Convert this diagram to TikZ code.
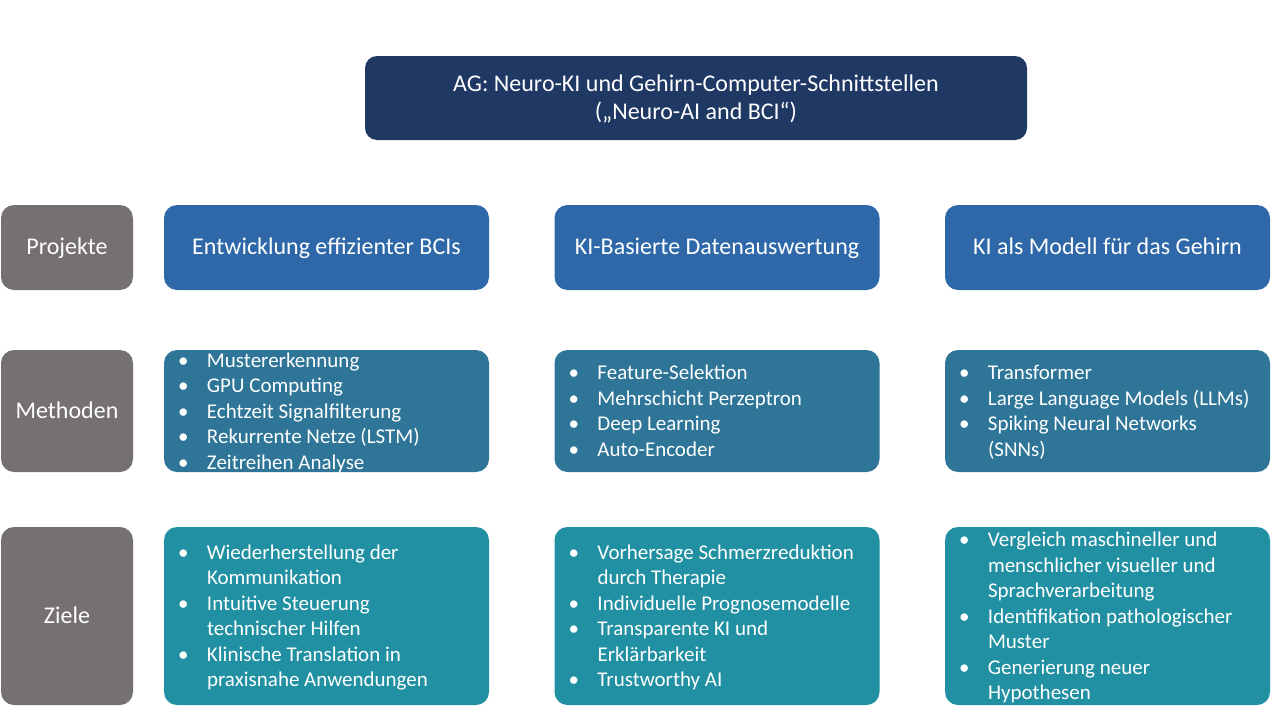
\documentclass[tikz,border=0pt]{standalone}
\usepackage{fontspec}
\setmainfont{Carlito}
\usetikzlibrary{positioning}
\definecolor{titelblau}{RGB}{31,56,100}
\definecolor{projektblau}{RGB}{46,104,168}
\definecolor{methodenblau}{RGB}{46,117,152}
\definecolor{zieleblau}{RGB}{33,144,162}
\definecolor{zeilengrau}{RGB}{118,113,113}
\newcommand{\pkt}{\textbullet &}

\begin{document}
\begin{tikzpicture}[x=1pt,y=-1pt,
  box/.style={rectangle, rounded corners=13pt, inner sep=0pt, text=white,
    font=\fontsize{24}{28}\selectfont, align=center, text depth=2pt},
  titel/.style={box, fill=titelblau, minimum width=662, minimum height=84, rounded corners=12pt},
  zeile/.style={box, fill=zeilengrau, minimum width=132},
  projekt/.style={box, fill=projektblau, minimum width=325, minimum height=85},
  methode/.style={box, fill=methodenblau, minimum width=325, minimum height=122},
  ziel/.style={box, fill=zieleblau, minimum width=325, minimum height=178},
  liste/.style={inner sep=0pt, text=white, font=\fontsize{21}{25.5}\selectfont, yshift=-2pt}]
\useasboundingbox (0,0) rectangle (1280,720);

% Titel
\node[titel] (titel) at (696,98) {AG: Neuro-KI und Gehirn-Computer-Schnittstellen\\(„Neuro-AI and BCI“)};

% Zeilen
\node[zeile, minimum height=85] (projekte) at (67,247.5) {Projekte};
\node[zeile, minimum height=122] (methoden) at (67,411) {Methoden};
\node[zeile, minimum height=178] (ziele) at (67,616) {Ziele};

% Projekte
\foreach \x/\n/\t in {326.5/1/Entwicklung effizienter BCIs, 717/2/KI-Basierte Datenauswertung, 1107.5/3/KI als Modell für das Gehirn}{
  \node[projekt] (p\n) at (\x,247.5) {\t};
  \node[methode] (m\n) at (\x,411) {};
  \node[ziel] (z\n) at (\x,616) {};
}

% Methoden
\node[liste, right=14pt of m1.west] (lm1) {\begin{tabular}{@{}p{29pt}@{}l@{}}
\pkt Mustererkennung\\
\pkt GPU Computing\\
\pkt Echtzeit Signalfilterung\\
\pkt Rekurrente Netze (LSTM)\\
\pkt Zeitreihen Analyse
\end{tabular}};
\node[liste, right=14pt of m2.west] (lm2) {\begin{tabular}{@{}p{29pt}@{}l@{}}
\pkt Feature-Selektion\\
\pkt Mehrschicht Perzeptron\\
\pkt Deep Learning\\
\pkt Auto-Encoder
\end{tabular}};
\node[liste, right=14pt of m3.west] (lm3) {\begin{tabular}{@{}p{29pt}@{}l@{}}
\pkt Transformer\\
\pkt Large Language Models (LLMs)\\
\pkt Spiking Neural Networks\\
& (SNNs)
\end{tabular}};

% Ziele
\node[liste, right=14pt of z1.west] (lz1) {\begin{tabular}{@{}p{29pt}@{}l@{}}
\pkt Wiederherstellung der\\
& Kommunikation\\
\pkt Intuitive Steuerung\\
& technischer Hilfen\\
\pkt Klinische Translation in\\
& praxisnahe Anwendungen
\end{tabular}};
\node[liste, right=14pt of z2.west] (lz2) {\begin{tabular}{@{}p{29pt}@{}l@{}}
\pkt Vorhersage Schmerzreduktion\\
& durch Therapie\\
\pkt Individuelle Prognosemodelle\\
\pkt Transparente KI und\\
& Erklärbarkeit\\
\pkt Trustworthy AI
\end{tabular}};
\node[liste, right=14pt of z3.west] (lz3) {\begin{tabular}{@{}p{29pt}@{}l@{}}
\pkt Vergleich maschineller und\\
& menschlicher visueller und\\
& Sprachverarbeitung\\
\pkt Identifikation pathologischer\\
& Muster\\
\pkt Generierung neuer\\
& Hypothesen
\end{tabular}};
\end{tikzpicture}
\end{document}
